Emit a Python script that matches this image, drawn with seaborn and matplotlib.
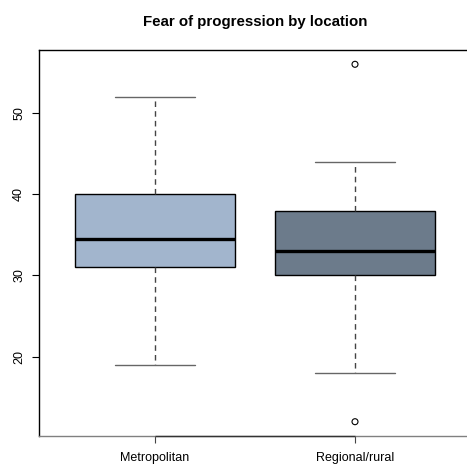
import matplotlib
matplotlib.use("Agg")
import matplotlib.pyplot as plt
import seaborn as sns
import pandas as pd

# Five-number summaries (lower whisker, Q1, median, Q3, upper whisker) per location
locations = ["Metropolitan", "Regional/rural"]
metro_summary = [19, 31, 34.5, 40, 52]
regional_summary = [18, 30, 33, 38, 44]
# Points beyond the whiskers
outlier_location = ["Regional/rural", "Regional/rural"]
outlier_values = [56, 12]
box_colors = ["#A2B5CD", "#6C7B8B"]
y_ticks = [20, 30, 40, 50]

sns.set_style("white")
plt.rcParams["font.family"] = ["Liberation Sans", "DejaVu Sans"]
plt.rcParams["text.color"] = "black"
plt.rcParams["xtick.color"] = "black"
plt.rcParams["ytick.color"] = "black"
plt.rcParams["axes.labelcolor"] = "black"

summary = pd.DataFrame({
    "location": [locations[0]] * len(metro_summary) + [locations[1]] * len(regional_summary),
    "score": metro_summary + regional_summary,
})
outliers = pd.DataFrame({"location": outlier_location, "score": outlier_values})

fig = plt.figure(figsize=(4.67, 4.68), dpi=100)
W, H = 467, 468
ax = fig.add_axes([39 / W, (H - 436) / H, 432 / W, 386 / H])

sns.boxplot(
    data=summary, x="location", y="score", hue="location",
    order=locations, hue_order=locations, palette=box_colors,
    whis=(0, 100), width=0.8, legend=False, ax=ax, saturation=1,
    linecolor="black", linewidth=1.0, showfliers=False,
    boxprops=dict(edgecolor="black", linewidth=1.0),
    medianprops=dict(color="black", linewidth=2.4),
    whiskerprops=dict(color="#444444", linestyle=(0, (4, 3)), linewidth=1.0),
    capprops=dict(color="#666666", linewidth=1.0),
)

n_before = len(ax.collections)
sns.stripplot(
    data=outliers, x="location", y="score", order=locations,
    jitter=False, size=4.3, color="black", ax=ax,
)
for coll in ax.collections[n_before:]:
    coll.set_facecolor("none")
    coll.set_edgecolor("black")
    coll.set_linewidth(0.8)

# cap half-width of box width, like classic boxplots
for line in ax.lines:
    xd = list(line.get_xdata())
    yd = list(line.get_ydata())
    if len(xd) == 2 and yd[0] == yd[1] and abs(xd[1] - xd[0]) < 0.79 and line.get_linestyle() == "-" and line.get_color() == "#666666":
        c = (xd[0] + xd[1]) / 2
        line.set_xdata([c - 0.2, c + 0.2])

ax.set_xlim(-0.58, 1.58)
ax.set_ylim(10.24, 57.76)
ax.set_yticks(y_ticks)
ax.set_yticklabels([str(t) for t in y_ticks], rotation=90, va="center", fontsize=9)
ax.set_xticks([0, 1])
ax.set_xticklabels(locations, fontsize=9)
ax.tick_params(axis="y", length=5, width=0.8, color="black", pad=5, left=True, labelcolor="black")
ax.tick_params(axis="x", length=5, width=0.8, color="#444444", pad=6.5, bottom=True, labelcolor="black")
ax.set_xlabel("")
ax.set_ylabel("")

for side in ["left", "top", "right"]:
    ax.spines[side].set_color("black")
    ax.spines[side].set_linewidth(1.0)
ax.spines["bottom"].set_color("#808080")
ax.spines["bottom"].set_linewidth(1.0)
ax.hlines(ax.get_ylim()[0], 0, 1, color="#333333", linewidth=1.0, clip_on=False, zorder=5)

ax.set_title("Fear of progression by location", fontsize=10.8, fontweight="bold", pad=17, color="black")

fig.savefig("out.png", dpi=100)
